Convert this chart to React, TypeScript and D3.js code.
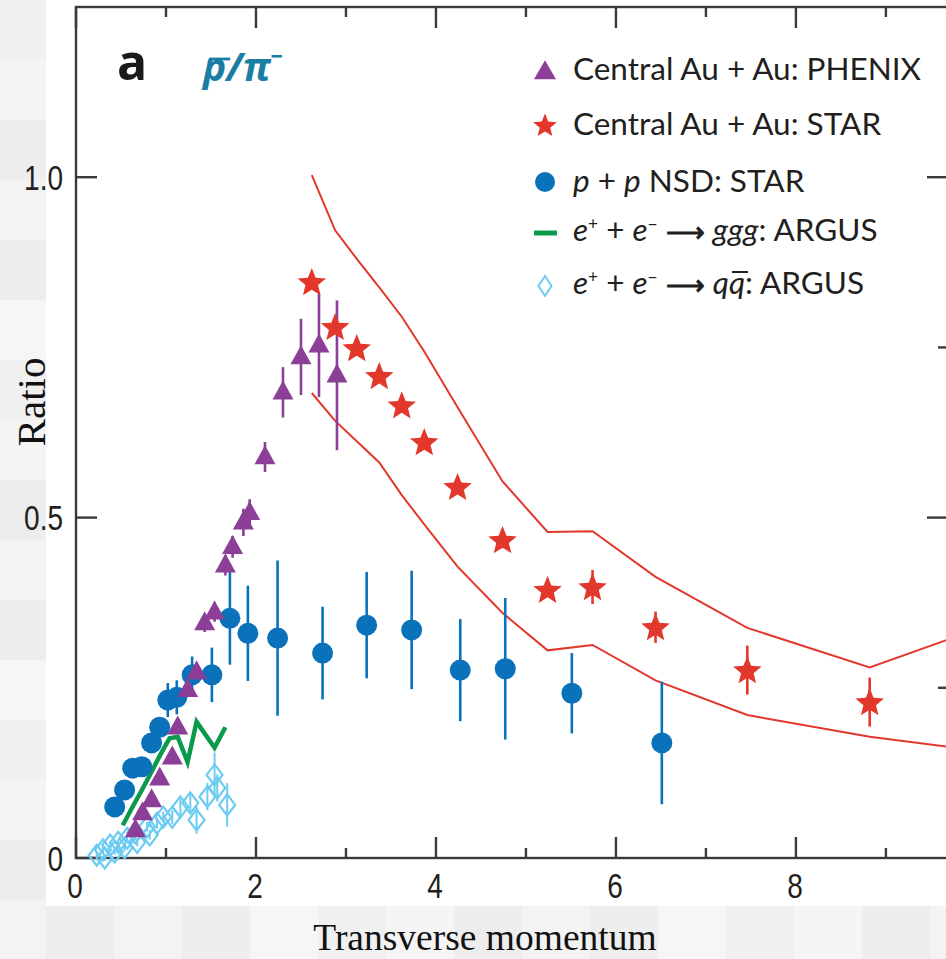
import React, { useEffect, useRef } from 'react';
import * as d3 from 'd3';

const W = 946;
const H = 959;

// Central Au + Au, PHENIX
const phenixPt = [0.66, 0.74, 0.84, 0.93, 1.07, 1.13, 1.24, 1.34, 1.43, 1.54, 1.66, 1.74, 1.86, 1.93, 2.10, 2.30, 2.50, 2.70, 2.90];
const phenixRatio = [0.041, 0.066, 0.085, 0.117, 0.148, 0.192, 0.247, 0.273, 0.345, 0.361, 0.430, 0.457, 0.493, 0.507, 0.589, 0.684, 0.736, 0.753, 0.709];
const phenixErr = [0.005, 0.005, 0.006, 0.007, 0.008, 0.009, 0.01, 0.012, 0.013, 0.014, 0.015, 0.016, 0.02, 0.02, 0.022, 0.037, 0.056, 0.076, 0.11];

// Central Au + Au, STAR
const starPt = [2.62, 2.88, 3.12, 3.37, 3.62, 3.87, 4.24, 4.74, 5.24, 5.74, 6.44, 7.46, 8.82];
const starRatio = [0.846, 0.780, 0.749, 0.708, 0.665, 0.611, 0.545, 0.467, 0.394, 0.398, 0.339, 0.276, 0.229];
const starErr = [0.005, 0.005, 0.005, 0.005, 0.005, 0.005, 0.006, 0.012, 0.01, 0.025, 0.023, 0.036, 0.036];

// STAR systematic band (upper / lower edges)
const bandPt = [2.62, 2.88, 3.12, 3.37, 3.62, 3.87, 4.24, 4.74, 5.24, 5.74, 6.44, 7.46, 8.82, 10.2];
const bandUpper = [1.003, 0.922, 0.88, 0.838, 0.795, 0.744, 0.662, 0.553, 0.479, 0.480, 0.413, 0.338, 0.280, 0.345];
const bandLower = [0.683, 0.642, 0.612, 0.581, 0.533, 0.49, 0.428, 0.36, 0.305, 0.313, 0.261, 0.210, 0.178, 0.155];

// p + p NSD, STAR
const ppPt = [0.43, 0.54, 0.63, 0.73, 0.84, 0.93, 1.02, 1.12, 1.29, 1.51, 1.71, 1.91, 2.24, 2.74, 3.23, 3.73, 4.27, 4.77, 5.51, 6.51];
const ppRatio = [0.075, 0.100, 0.132, 0.134, 0.169, 0.192, 0.232, 0.236, 0.269, 0.269, 0.352, 0.330, 0.323, 0.301, 0.342, 0.335, 0.276, 0.278, 0.242, 0.169];
const ppErr = [0.008, 0.008, 0.01, 0.01, 0.012, 0.015, 0.025, 0.025, 0.027, 0.04, 0.068, 0.07, 0.114, 0.068, 0.078, 0.087, 0.075, 0.104, 0.059, 0.09];

// e+ e- -> ggg, ARGUS
const gggPt = [0.52, 0.62, 0.72, 0.83, 0.93, 1.04, 1.13, 1.24, 1.34, 1.54, 1.66];
const gggRatio = [0.048, 0.073, 0.097, 0.124, 0.150, 0.176, 0.178, 0.141, 0.200, 0.162, 0.192];

// e+ e- -> q qbar, ARGUS
const qqPt = [0.23, 0.30, 0.38, 0.47, 0.57, 0.66, 0.79, 0.90, 0.97, 1.07, 1.16, 1.27, 1.34, 1.46, 1.54, 1.57, 1.68, 0.32, 0.43, 0.54, 0.68, 0.82];
const qqRatio = [0.004, 0.012, 0.019, 0.023, 0.029, 0.037, 0.046, 0.051, 0.060, 0.060, 0.075, 0.081, 0.056, 0.090, 0.122, 0.103, 0.078, 0.0, 0.009, 0.015, 0.023, 0.034];
const qqErr = [0.004, 0.004, 0.005, 0.005, 0.006, 0.006, 0.007, 0.008, 0.008, 0.01, 0.012, 0.014, 0.02, 0.02, 0.033, 0.02, 0.032, 0.004, 0.004, 0.005, 0.006, 0.007];

// axis ticks
const xMajor = [0, 2, 4, 6, 8];
const xMinor = [1, 3, 5, 7, 9];
const yLeftTicks = [0, 0.5, 1.0];
const yRightMajor = [0.5, 1.0];
const yRightMinor = [0.25, 0.75];

const C = {
  purple: '#8b3f97',
  red: '#e2382c',
  blue: '#0a71bb',
  green: '#0b9a4c',
  cyan: '#6ccbf2',
  teal: '#1a7ea4',
  ink: '#231f20',
  axis: '#3a3a3a',
};

const SANS = "Lato, 'Open Sans', sans-serif";
const TICKFONT = "'Liberation Sans', Arial, sans-serif";
const SERIF = "'Liberation Serif', 'DejaVu Serif', serif";

function starPath(R: number, r: number) {
  const pts: [number, number][] = [];
  for (let i = 0; i < 10; i++) {
    const a = -Math.PI / 2 + (i * Math.PI) / 5;
    const rr = i % 2 === 0 ? R : r;
    pts.push([rr * Math.cos(a), rr * Math.sin(a)]);
  }
  return 'M' + pts.map((p) => p.join(',')).join('L') + 'Z';
}

function trianglePath(w: number, h: number) {
  return `M0,${-h * 0.62}L${w / 2},${h * 0.38}L${-w / 2},${h * 0.38}Z`;
}

function diamondPath(hw: number, hh: number) {
  return `M0,${-hh}L${hw},0L0,${hh}L${-hw},0Z`;
}

type Run = { t: string; it?: boolean; sup?: boolean; bold?: boolean; key?: string };

function draw(svgEl: SVGSVGElement) {
  const svg = d3.select(svgEl);
  svg.selectAll('*').remove();

  const x = d3.scaleLinear().domain([0, 9.69]).range([76, 948]);
  const y = d3.scaleLinear().domain([0, 1.25]).range([858, 7]);
  const [x0, x1] = x.range();
  const [y0, y1] = y.range();

  // page backdrop: faint grey tiles along the left and bottom edges
  const back = svg.append('g');
  back.append('rect').attr('width', W).attr('height', H).attr('fill', '#ffffff');
  const greys = ['#f0f0f0', '#f5f5f5', '#ededed', '#f3f3f3', '#eeeeee', '#f6f6f6'];
  for (let i = 0; i < 16; i++) {
    back.append('rect').attr('x', 0).attr('y', i * 60).attr('width', 46).attr('height', 60)
      .attr('fill', greys[i % greys.length]);
  }
  for (let i = 0; i < 14; i++) {
    back.append('rect').attr('x', 46 + i * 68).attr('y', 906).attr('width', 68).attr('height', 53)
      .attr('fill', greys[(i + 2) % greys.length]);
  }

  const defs = svg.append('defs');
  defs.append('clipPath').attr('id', 'plotClip')
    .append('rect').attr('x', x0).attr('y', y1).attr('width', x1 - x0).attr('height', y0 - y1);

  // frame and ticks
  const ax = svg.append('g').attr('stroke', C.axis).attr('stroke-width', 2.4).attr('fill', 'none');
  ax.append('rect').attr('x', x0).attr('y', y1).attr('width', x1 - x0).attr('height', y0 - y1);
  xMajor.forEach((v) => {
    ax.append('line').attr('x1', x(v)).attr('x2', x(v)).attr('y1', y0).attr('y2', y0 - 21);
    ax.append('line').attr('x1', x(v)).attr('x2', x(v)).attr('y1', y1).attr('y2', y1 + 21);
  });
  xMinor.forEach((v) => {
    ax.append('line').attr('x1', x(v)).attr('x2', x(v)).attr('y1', y0).attr('y2', y0 - 10);
    ax.append('line').attr('x1', x(v)).attr('x2', x(v)).attr('y1', y1).attr('y2', y1 + 10);
  });
  yLeftTicks.forEach((v) => {
    ax.append('line').attr('x1', x0).attr('x2', x0 + 21).attr('y1', y(v)).attr('y2', y(v));
  });
  yRightMajor.forEach((v) => {
    ax.append('line').attr('x1', x1).attr('x2', x1 - 21).attr('y1', y(v)).attr('y2', y(v));
  });
  yRightMinor.forEach((v) => {
    ax.append('line').attr('x1', x1).attr('x2', x1 - 10).attr('y1', y(v)).attr('y2', y(v));
  });

  // tick labels (narrowed digits)
  const tl = svg.append('g').attr('font-family', TICKFONT).attr('font-size', 35).attr('fill', C.ink);
  xMajor.forEach((v) => {
    tl.append('text').attr('transform', `translate(${x(v) - 1},898) scale(0.8,1)`)
      .attr('text-anchor', 'middle').text(d3.format('d')(v));
  });
  yLeftTicks.forEach((v) => {
    tl.append('text').attr('transform', `translate(63,${y(v) + 12.5}) scale(0.8,1)`)
      .attr('text-anchor', 'end').text(v === 0 ? '0' : d3.format('.1f')(v));
  });

  // axis titles
  svg.append('text').attr('x', 485).attr('y', 950).attr('text-anchor', 'middle')
    .attr('font-family', SERIF).attr('font-size', 37.5).attr('fill', '#111').text('Transverse momentum');
  svg.append('text').attr('transform', 'translate(45,402) rotate(-90)').attr('text-anchor', 'middle')
    .attr('font-family', SERIF).attr('font-size', 41).attr('fill', '#111').text('Ratio');

  const plot = svg.append('g');

  // STAR band edges
  const bandLine = d3.line<number>().x((_, i) => x(bandPt[i]));
  const clipped = plot.append('g').attr('clip-path', 'url(#plotClip)');
  clipped.append('path').attr('d', bandLine.y((v) => y(v))(bandUpper))
    .attr('fill', 'none').attr('stroke', C.red).attr('stroke-width', 2);
  clipped.append('path').attr('d', bandLine.y((v) => y(v))(bandLower))
    .attr('fill', 'none').attr('stroke', C.red).attr('stroke-width', 2);

  // q qbar diamonds
  const qq = plot.append('g');
  qqPt.forEach((p, i) => {
    qq.append('line').attr('x1', x(p)).attr('x2', x(p))
      .attr('y1', y(qqRatio[i] - qqErr[i])).attr('y2', y(qqRatio[i] + qqErr[i]))
      .attr('stroke', C.cyan).attr('stroke-width', 2);
    qq.append('path').attr('d', diamondPath(8, 10.5)).attr('transform', `translate(${x(p)},${y(qqRatio[i])})`)
      .attr('fill', 'none').attr('stroke', C.cyan).attr('stroke-width', 2.2);
  });

  // ggg line
  plot.append('path')
    .attr('d', d3.line<number>().x((_, i) => x(gggPt[i])).y((v) => y(v))(gggRatio))
    .attr('fill', 'none').attr('stroke', C.green).attr('stroke-width', 4.5).attr('stroke-linejoin', 'miter');

  // p + p circles
  const pp = plot.append('g');
  ppPt.forEach((p, i) => {
    pp.append('line').attr('x1', x(p)).attr('x2', x(p))
      .attr('y1', y(ppRatio[i] - ppErr[i])).attr('y2', y(ppRatio[i] + ppErr[i]))
      .attr('stroke', C.blue).attr('stroke-width', 2.6);
  });
  ppPt.forEach((p, i) => {
    pp.append('circle').attr('cx', x(p)).attr('cy', y(ppRatio[i])).attr('r', 10.5).attr('fill', C.blue);
  });

  // PHENIX triangles
  const ph = plot.append('g');
  phenixPt.forEach((p, i) => {
    ph.append('line').attr('x1', x(p)).attr('x2', x(p))
      .attr('y1', y(phenixRatio[i] - phenixErr[i])).attr('y2', y(phenixRatio[i] + phenixErr[i]))
      .attr('stroke', C.purple).attr('stroke-width', 2.6);
    ph.append('path').attr('d', trianglePath(21, 19)).attr('transform', `translate(${x(p)},${y(phenixRatio[i])})`)
      .attr('fill', C.purple);
  });

  // STAR stars
  const st = plot.append('g');
  starPt.forEach((p, i) => {
    st.append('line').attr('x1', x(p)).attr('x2', x(p))
      .attr('y1', y(starRatio[i] - starErr[i])).attr('y2', y(starRatio[i] + starErr[i]))
      .attr('stroke', C.red).attr('stroke-width', 2.6);
    st.append('path').attr('d', starPath(15, 6.6)).attr('transform', `translate(${x(p)},${y(starRatio[i]) + 1})`)
      .attr('fill', C.red);
  });

  // panel letter and ratio name
  svg.append('text').attr('x', 117).attr('y', 80).attr('font-family', "'Open Sans', Lato, sans-serif")
    .attr('font-weight', 700).attr('font-size', 50).attr('fill', '#1a1a1a').text('a');
  const title = svg.append('text').attr('x', 203).attr('y', 81).attr('font-family', "'Open Sans', Lato, sans-serif")
    .attr('font-weight', 700).attr('font-style', 'italic').attr('font-size', 39).attr('fill', C.teal);
  const pBar = title.append('tspan').text('p');
  title.append('tspan').text('/π');
  title.append('tspan').attr('font-size', 22).attr('dy', -17).text('−');
  {
    const node = pBar.node() as SVGTextContentElement;
    const a = node.getStartPositionOfChar(0);
    const b = node.getEndPositionOfChar(0);
    svg.append('line').attr('x1', a.x + 6).attr('x2', b.x + 4).attr('y1', 59).attr('y2', 59)
      .attr('stroke', C.teal).attr('stroke-width', 2.8);
  }

  // legend
  const leg = svg.append('g');
  const mx = 545;
  const tx = 573;
  const fs = 31.5;
  leg.append('path').attr('d', trianglePath(22, 19)).attr('transform', `translate(${mx},72)`).attr('fill', C.purple);
  leg.append('path').attr('d', starPath(12.5, 5.5)).attr('transform', `translate(${mx},126)`).attr('fill', C.red);
  leg.append('circle').attr('cx', mx).attr('cy', 182).attr('r', 10).attr('fill', C.blue);
  leg.append('line').attr('x1', 534).attr('x2', 557).attr('y1', 233).attr('y2', 233)
    .attr('stroke', C.green).attr('stroke-width', 5);
  leg.append('path').attr('d', diamondPath(6.5, 10)).attr('transform', `translate(${mx},286)`)
    .attr('fill', 'none').attr('stroke', C.cyan).attr('stroke-width', 2);

  const barNodes: Record<string, SVGTextContentElement> = {};
  const addRuns = (yy: number, runs: Run[]) => {
    const t = leg.append('text').attr('x', tx).attr('y', yy).attr('font-family', SANS)
      .attr('font-size', fs).attr('fill', C.ink).style('white-space', 'pre');
    let raised = false;
    runs.forEach((r) => {
      const ts = t.append('tspan').text(r.t);
      if (r.it) ts.attr('font-style', 'italic');
      if (r.bold) ts.attr('font-weight', 700).attr('font-size', fs * 0.85);
      if (r.sup) {
        ts.attr('font-size', fs * 0.55);
        if (!raised) ts.attr('dy', -fs * 0.36);
        raised = true;
      } else if (raised) {
        ts.attr('dy', fs * 0.36);
        raised = false;
      }
      if (r.key) barNodes[r.key] = ts.node() as SVGTextContentElement;
    });
  };
  addRuns(80, [{ t: 'Central Au + Au: PHENIX' }]);
  addRuns(135, [{ t: 'Central Au + Au: STAR' }]);
  addRuns(192, [{ t: 'p', it: true }, { t: ' + ' }, { t: 'p', it: true }, { t: ' NSD: STAR' }]);
  addRuns(241, [
    { t: 'e', it: true }, { t: '+', sup: true }, { t: ' + ' }, { t: 'e', it: true }, { t: '−', sup: true },
    { t: ' ' }, { t: '⟶', bold: true }, { t: ' ' }, { t: 'ggg', it: true }, { t: ': ARGUS' },
  ]);
  addRuns(294, [
    { t: 'e', it: true }, { t: '+', sup: true }, { t: ' + ' }, { t: 'e', it: true }, { t: '−', sup: true },
    { t: ' ' }, { t: '⟶', bold: true }, { t: ' ' }, { t: 'q', it: true }, { t: 'q', it: true, key: 'qbar' },
    { t: ': ARGUS' },
  ]);
  const qb = barNodes['qbar'];
  if (qb) {
    const a = qb.getStartPositionOfChar(0);
    const b = qb.getEndPositionOfChar(0);
    leg.append('line').attr('x1', a.x + 3).attr('x2', b.x + 3).attr('y1', 272).attr('y2', 272)
      .attr('stroke', C.ink).attr('stroke-width', 2);
  }
}

export default function App() {
  const ref = useRef<SVGSVGElement>(null);
  useEffect(() => {
    if (ref.current) draw(ref.current);
  }, []);
  return (
    <svg
      ref={ref}
      width={W}
      height={H}
      style={{ position: 'absolute', left: 0, top: 0, display: 'block' }}
    />
  );
}
